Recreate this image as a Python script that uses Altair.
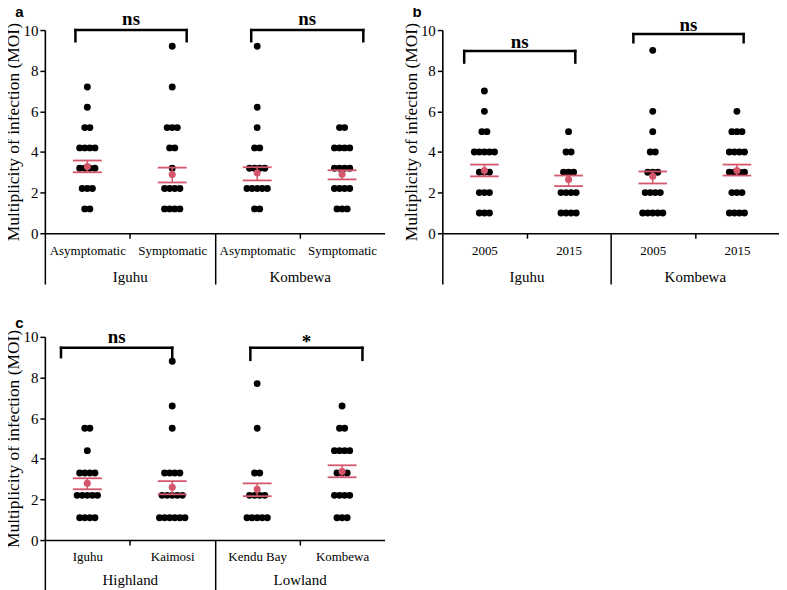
import json
import altair as alt
import pandas as pd

SERIF = "Liberation Serif"
SANS = "Liberation Sans"
RED = "#d4566b"

# ---------------- Panel a ----------------
a_categories = ["Asymptomatic", "Symptomatic", "Asymptomatic", "Symptomatic"]
a_groups = ["Iguhu", "Kombewa"]
a_levels = [1.2, 2.2, 3.2, 4.2, 5.2, 6.2, 7.2, 9.2]
a_counts = [
    [2, 3, 4, 4, 2, 1, 1, 0],
    [4, 4, 1, 2, 3, 0, 1, 1],
    [2, 5, 4, 2, 1, 1, 0, 1],
    [3, 4, 4, 4, 2, 0, 0, 0],
]
a_mean = [3.28, 2.89, 2.97, 2.9]
a_sem_low = [3.0, 2.5, 2.6, 2.65]
a_sem_high = [3.58, 3.23, 3.25, 3.1]
a_br_left = [0.36, 2.43]
a_br_right = [1.67, 3.75]
a_br_top = [10.0, 10.0]
a_br_end = [9.45, 9.45]
a_br_text = ["ns", "ns"]
a_br_text_y = [10.55, 10.55]

# ---------------- Panel b ----------------
b_categories = ["2005", "2015", "2005", "2015"]
b_groups = ["Iguhu", "Kombewa"]
b_levels = [1, 2, 3, 4, 5, 6, 7, 9]
b_counts = [
    [3, 3, 3, 5, 2, 1, 1, 0],
    [4, 4, 3, 2, 1, 0, 0, 0],
    [5, 4, 3, 2, 1, 1, 0, 1],
    [4, 3, 4, 4, 3, 1, 0, 0],
]
b_mean = [3.09, 2.64, 2.8, 3.09]
b_sem_low = [2.8, 2.32, 2.45, 2.84]
b_sem_high = [3.38, 2.84, 3.04, 3.38]
b_br_left = [0.26, 2.27]
b_br_right = [1.58, 3.58]
b_br_top = [8.97, 9.8]
b_br_end = [8.4, 9.4]
b_br_text = ["ns", "ns"]
b_br_text_y = [9.4, 10.25]

# ---------------- Panel c ----------------
c_categories = ["Iguhu", "Kaimosi", "Kendu Bay", "Kombewa"]
c_groups = ["Highland", "Lowland"]
c_levels = [1.1, 2.2, 3.3, 4.4, 5.5, 6.6, 7.7, 8.8]
c_counts = [
    [4, 5, 4, 1, 2, 0, 0, 0],
    [6, 5, 4, 0, 1, 1, 0, 1],
    [5, 4, 2, 0, 1, 0, 1, 0],
    [3, 4, 3, 4, 2, 1, 0, 0],
]
c_mean = [2.79, 2.6, 2.5, 3.38]
c_sem_low = [2.5, 2.25, 2.16, 3.09]
c_sem_high = [3.04, 2.9, 2.79, 3.68]
c_br_left = [0.19, 2.42]
c_br_right = [1.5, 3.74]
c_br_top = [9.46, 9.46]
c_br_end = [9.0, 8.87]
c_br_text = ["ns", "*"]
c_br_text_y = [10.0, 9.75]

STEP = 0.06   # beeswarm spacing (x units)
HALF = 0.17   # half width of SEM bars


def panel(tag, tag_y, cats, groups, levels, counts, mean, low, high,
          bl, br, btop, bend, btext, bty, width, divider, grp_pad):
    rows = []
    for i, cnt in enumerate(counts):
        for lv, n in zip(levels, cnt):
            for k in range(n):
                rows.append({"x": i + 0.5 + (k - (n - 1) / 2) * STEP, "y": lv})
    pts = pd.DataFrame(rows)
    centers = [i + 0.5 for i in range(len(cats))]
    stats = pd.DataFrame({
        "x": centers,
        "xl": [c - HALF for c in centers],
        "xr": [c + HALF for c in centers],
        "mean": mean, "low": low, "high": high,
    })
    brk = pd.DataFrame({"x1": bl, "x2": br, "top": btop, "end": bend,
                        "label": btext, "ty": bty,
                        "xm": [(l + r) / 2 for l, r in zip(bl, br)]})
    vert = pd.DataFrame({"x": bl + br, "top": btop + btop, "end": bend + bend})
    tag_df = pd.DataFrame({"x": [-0.3], "y": [tag_y], "t": [tag]})

    xs = alt.Scale(domain=[0, 4], nice=False, zero=False)
    ys = alt.Scale(domain=[0, 10], nice=False)

    cat_axis = alt.Axis(orient="bottom", values=centers,
                        labelExpr=json.dumps(cats) + "[floor(datum.value)]",
                        tickSize=0, labelPadding=11, labelFont=SERIF, labelFontSize=13,
                        labelColor="black", domainColor="black", domainWidth=1.5,
                        grid=False, title=None, labelFlush=False, labelOverlap=False)
    div_axis = alt.Axis(orient="bottom", values=[0, 2], tickSize=divider, tickWidth=1.5,
                        tickColor="black", labels=False, domain=False, grid=False, title=None)
    grp_axis = alt.Axis(orient="bottom", values=[1, 3], tickSize=5, tickWidth=1.5,
                        tickColor="black",
                        labelExpr=json.dumps(groups) + "[floor(datum.value / 2)]",
                        labelPadding=grp_pad, labelFont=SERIF, labelFontSize=15,
                        labelColor="black", domain=False, grid=False, title=None,
                        labelFlush=False)
    y_axis = alt.Axis(orient="left", values=[0, 2, 4, 6, 8, 10], tickSize=5, tickWidth=1.5,
                      tickColor="black", labelPadding=2, labelFont=SERIF, labelFontSize=15,
                      labelColor="black", domainColor="black", domainWidth=1.6, grid=False,
                      title="Multiplicity of infection (MOI)", titleFont=SERIF,
                      titleFontSize=17.5, titleFontWeight="normal", titleColor="black",
                      titlePadding=0)

    points = alt.Chart(pts).mark_circle(size=48, color="black", opacity=1).encode(
        x=alt.X("x:Q", scale=xs, axis=cat_axis),
        y=alt.Y("y:Q", scale=ys, axis=y_axis))
    hbars = alt.Chart(stats).transform_fold(["low", "high"], as_=["k", "v"]).mark_rule(
        color=RED, strokeWidth=1.8).encode(
        x=alt.X("xl:Q", scale=xs, axis=div_axis), x2="xr:Q",
        y=alt.Y("v:Q", scale=ys, axis=None))
    vbar = alt.Chart(stats).mark_rule(color=RED, strokeWidth=1.5).encode(
        x=alt.X("x:Q", scale=xs, axis=grp_axis),
        y=alt.Y("low:Q", scale=ys, axis=None), y2="high:Q")
    mpt = alt.Chart(stats).mark_circle(size=50, color=RED, opacity=1).encode(
        x=alt.X("x:Q", scale=xs, axis=None),
        y=alt.Y("mean:Q", scale=ys, axis=None))
    bh = alt.Chart(brk).mark_rule(color="black", strokeWidth=2.5, strokeCap="square",
                                  clip=False).encode(
        x=alt.X("x1:Q", scale=xs, axis=None), x2="x2:Q",
        y=alt.Y("top:Q", scale=ys, axis=None))
    bv = alt.Chart(vert).mark_rule(color="black", strokeWidth=2.5, strokeCap="square",
                                   clip=False).encode(
        x=alt.X("x:Q", scale=xs, axis=None),
        y=alt.Y("top:Q", scale=ys, axis=None), y2="end:Q")
    bt = alt.Chart(brk).mark_text(font=SERIF, fontSize=19, fontWeight="bold",
                                  baseline="middle", color="black", clip=False).encode(
        x=alt.X("xm:Q", scale=xs, axis=None),
        y=alt.Y("ty:Q", scale=ys, axis=None),
        text="label:N")
    tg = alt.Chart(tag_df).mark_text(font=SANS, fontSize=15, fontWeight="bold",
                                     baseline="middle", align="center", color="black",
                                     clip=False).encode(
        x=alt.X("x:Q", scale=xs, axis=None),
        y=alt.Y("y:Q", scale=ys, axis=None),
        text="t:N")

    return alt.layer(points, hbars, vbar, mpt, bh, bv, bt, tg).resolve_scale(
        x="independent").resolve_axis(y="independent").properties(width=width, height=204)


pa = panel("a", 10.9, a_categories, a_groups, a_levels, a_counts, a_mean, a_sem_low,
           a_sem_high, a_br_left, a_br_right, a_br_top, a_br_end, a_br_text, a_br_text_y,
           341, 51, 31)
pb = panel("b", 10.9, b_categories, b_groups, b_levels, b_counts, b_mean, b_sem_low,
           b_sem_high, b_br_left, b_br_right, b_br_top, b_br_end, b_br_text, b_br_text_y,
           338, 51, 31)
pc = panel("c", 10.66, c_categories, c_groups, c_levels, c_counts, c_mean, c_sem_low,
           c_sem_high, c_br_left, c_br_right, c_br_top, c_br_end, c_br_text, c_br_text_y,
           341, 51, 28)

chart = alt.concat(pa, pb, pc, columns=2, spacing={"row": 104, "column": 58},
                   bounds="flush").properties(
    padding={"left": -3, "top": -5, "right": 0, "bottom": 0}
).configure_view(stroke=None)

chart.save("out.html", embed_options={"renderer": "svg", "actions": False})
